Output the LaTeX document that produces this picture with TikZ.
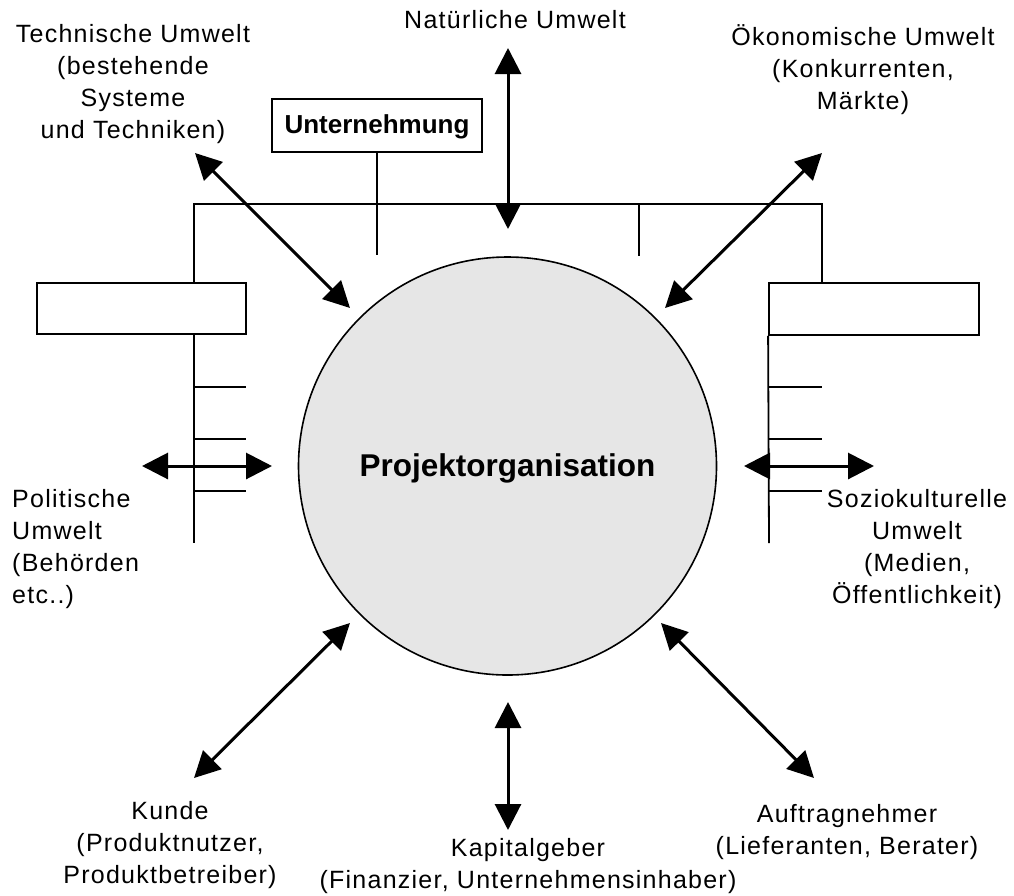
\documentclass[tikz,border=0pt]{standalone}
\usepackage{fontspec}
\setmainfont{Liberation Sans}
\newfontfamily\spaced[LetterSpace=5]{Liberation Sans}
\usetikzlibrary{arrows.meta}
\definecolor{circfill}{RGB}{230,230,230}
\newcommand{\topstrut}{\rule{0pt}{24pt}}
\begin{document}
\begin{tikzpicture}[x=1pt,y=-1pt,
  thinline/.style={line width=1.8pt},
  boxnode/.style={draw, line width=1.8pt, fill=white, rectangle, inner sep=0pt},
  biarrow/.style={line width=3pt, {Triangle[length=26pt,width=26pt]}-{Triangle[length=26pt,width=26pt]}},
  lab/.style={font=\spaced\fontsize{25}{32}\selectfont, align=center, inner sep=0pt, anchor=north},
]
\useasboundingbox (0,0) rectangle (1014,895);

% structure lines
\coordinate (TL) at (194,204);
\coordinate (TR) at (822,204);
\coordinate (BL) at (194,543);
\coordinate (BR) at (769,543);

% central circle
\node[circle, draw, line width=1.6pt, fill=circfill, minimum size=418pt, inner sep=0pt,
      font=\bfseries\fontsize{31.5}{36}\selectfont, text height=22pt, text depth=2pt]
      (P) at (507.5,466) {Projektorganisation};

% boxes
\node[boxnode, minimum width=210pt, minimum height=53pt,
      font=\bfseries\fontsize{26}{30}\selectfont, text height=19pt, text depth=4pt]
      (U) at (377,125.5) {Unternehmung};
\node[boxnode, minimum width=209pt, minimum height=51pt] (LB) at (141.5,308.5) {};
\node[boxnode, minimum width=210pt, minimum height=52pt] (RB) at (874,309) {};

\draw[thinline] (LB.north -| TL) -- (TL) -- (TR) -- (RB.north -| TR);
\draw[thinline] (LB.south -| BL) -- (BL);
\draw[thinline] (RB.south west) -- (BR);
\draw[thinline] (U.south) -- (U.south |- 0,255);
\draw[thinline] (639,204) -- (639,256);
\foreach \yy in {387,439,491}{
  \draw[thinline] (194,\yy) -- (246,\yy);
  \draw[thinline] (769,\yy) -- (822,\yy);
}

% labels
\node[lab] (nat) at (515,4) {\topstrut Natürliche Umwelt};
\node[lab] (tech) at (133,18) {\topstrut Technische Umwelt\\(bestehende\\Systeme\\und Techniken)};
\node[lab] (oeko) at (863,21) {\topstrut Ökonomische Umwelt\\(Konkurrenten,\\Märkte)};
\node[lab, anchor=north west, align=left] (pol) at (12,483) {\topstrut Politische\\Umwelt\\(Behörden\\etc..)};
\node[lab] (soz) at (917,483) {\topstrut Soziokulturelle\\Umwelt\\(Medien,\\Öffentlichkeit)};
\node[lab] (kun) at (170,795) {\topstrut Kunde\\(Produktnutzer,\\Produktbetreiber)};
\node[lab] (kap) at (528,832) {\topstrut Kapitalgeber\\(Finanzier, Unternehmensinhaber)};
\node[lab] (auf) at (847,798) {\topstrut Auftragnehmer\\(Lieferanten, Berater)};

% arrow ends
\coordinate (techA) at (195,153);   \coordinate (techB) at (350,308);
\coordinate (natA) at (508,48);     \coordinate (natB) at (508,229);
\coordinate (oekoA) at (822,153);   \coordinate (oekoB) at (665,308);
\coordinate (polA) at (142,466);    \coordinate (polB) at (272,466);
\coordinate (sozA) at (744,466);    \coordinate (sozB) at (874,466);
\coordinate (kunA) at (194,778);    \coordinate (kunB) at (350,623);
\coordinate (kapA) at (508,702);    \coordinate (kapB) at (508,830);
\coordinate (aufA) at (661,623);    \coordinate (aufB) at (814,778);

\draw[biarrow] (techA) -- (techB);
\draw[biarrow] (natA) -- (natB);
\draw[biarrow] (oekoA) -- (oekoB);
\draw[biarrow] (polA) -- (polB);
\draw[biarrow] (sozA) -- (sozB);
\draw[biarrow] (kunA) -- (kunB);
\draw[biarrow] (kapA) -- (kapB);
\draw[biarrow] (aufA) -- (aufB);
\end{tikzpicture}
\end{document}
